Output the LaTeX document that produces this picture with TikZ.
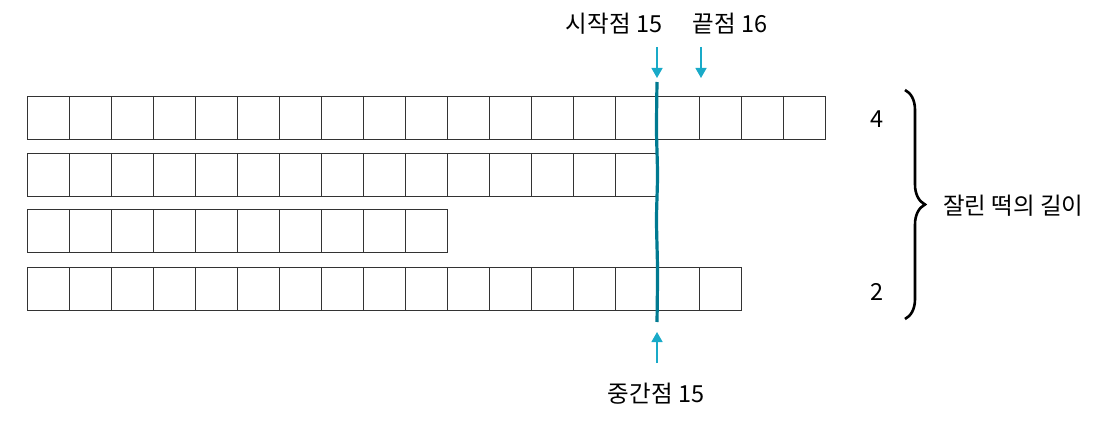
\documentclass[tikz,border=0pt]{standalone}
\usepackage{fontspec}
\setmainfont{Noto Sans CJK KR}
\usetikzlibrary{arrows.meta,decorations.pathreplacing}
\definecolor{cutteal}{RGB}{0,122,145}
\definecolor{arrowcyan}{RGB}{25,170,200}

\begin{document}
\begin{tikzpicture}[x=1pt,y=-1pt,
    cell/.style={draw=black!80,line width=0.9pt},
    pointer/.style={draw=arrowcyan,line width=1.4pt,-{Triangle[length=10pt,width=11pt]}},
    label/.style={font=\fontsize{23.5}{28}\selectfont,inner sep=0pt}]
        \useasboundingbox (0,0) rectangle (1107,425);
        % rice cake rows
        \foreach \n/\y in {19/96,15/153,10/209,17/267}{
            \foreach \i in {1,...,\n}{
                \draw[cell] ({27+42*(\i-1)},\y) rectangle ++(42,43);
            }
        }
        % cut line
        \draw[cutteal,line width=3.2pt] plot[smooth] coordinates
            {(657,82) (656.5,130) (657.5,175) (656.5,220) (657.5,270) (657,322)};
        % labels on top
        \node[label] (startlab) at (614,24) {시작점 15};
        \node[label] (endlab) at (730,24) {끝점 16};
        \coordinate (startfrom) at (657,47);
        \coordinate (startto) at (657,78);
        \coordinate (endfrom) at (701,47);
        \coordinate (endto) at (701,78);
        \draw[pointer] (startfrom) -- (startto);
        \draw[pointer] (endfrom) -- (endto);
        % label at bottom
        \node[label] (midlab) at (656,394) {중간점 15};
        \coordinate (midfrom) at (657,363);
        \coordinate (midto) at (657,332);
        \draw[pointer] (midfrom) -- (midto);
        % cut lengths
        \node[label] (lenfour) at (877,119) {4};
        \node[label] (lentwo) at (877,292) {2};
        \coordinate (bracetop) at (905,90);
        \coordinate (bracebot) at (905,319);
        \draw[line width=2.6pt,decorate,decoration={brace,amplitude=20pt}] (bracetop) -- (bracebot);
        \node[label,anchor=west] (lenlab) at (943,206) {잘린 떡의 길이};
    \end{tikzpicture}
\end{document}
